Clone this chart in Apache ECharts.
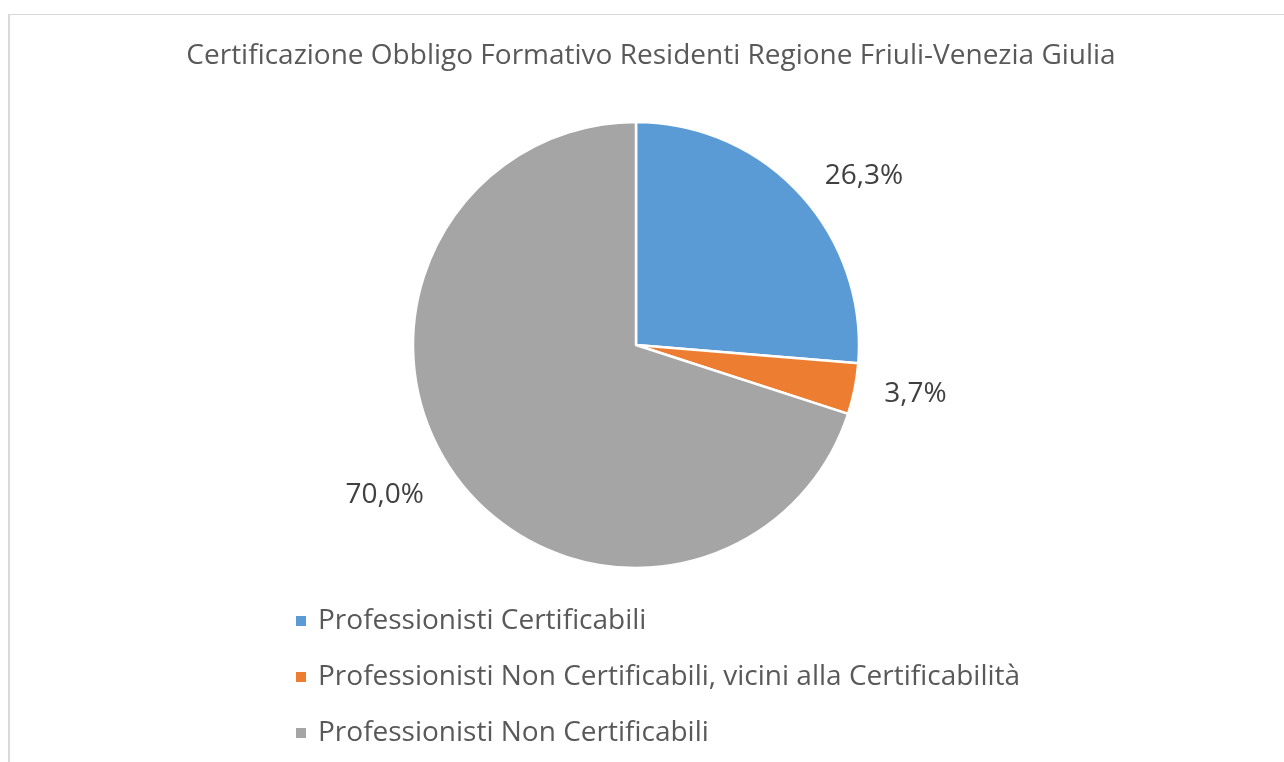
<!DOCTYPE html>
<html>
<head>
<meta charset="utf-8">
<script src="https://cdn.jsdelivr.net/npm/echarts@6/dist/echarts.min.js"></script>
<style>
  html, body { margin: 0; padding: 0; background: #fff; overflow: hidden; }
  #chart { width: 1284px; height: 762px; }
  #frame {
    position: absolute; left: 8px; top: 14px; width: 1400px; height: 900px;
    border-top: 1px solid #d9d9d9; border-left: 2px solid #d9d9d9;
    pointer-events: none;
  }
</style>
</head>
<body>
<div id="chart"></div>
<div id="frame"></div>
<script>
const titleText = 'Certificazione Obbligo Formativo Residenti Regione Friuli-Venezia Giulia';
const categories = [
  'Professionisti Certificabili',
  'Professionisti Non Certificabili, vicini alla Certificabilità',
  'Professionisti Non Certificabili'
];
const values = [26.3, 3.7, 70.0];
const colors = ['#5b9bd5', '#ed7d31', '#a5a5a5'];
// distanza dell'etichetta dal bordo della torta, per fetta
const labelOffsets = [27, 25, 33];

const fontFamily = '"Open Sans", "Noto Sans", sans-serif';

const pieData = categories.map((name, i) => {
  return {
    name: name,
    value: values[i],
    itemStyle: { color: colors[i] },
    labelLine: { show: false, length: labelOffsets[i], length2: 0 }
  }
});

const chart = echarts.init(document.getElementById('chart'), null, { renderer: 'canvas' });

const option = {
  animation: false,
  backgroundColor: '#ffffff',
  title: {
    text: titleText,
    left: 651,
    textAlign: 'center',
    top: 42,
    padding: 0,
    textStyle: {
      fontFamily: fontFamily,
      fontSize: 28,
      fontWeight: 'normal',
      color: '#595959'
    }
  },
  legend: {
    orient: 'vertical',
    left: 294,
    top: 604,
    padding: 0,
    itemGap: 22,
    itemWidth: 12,
    itemHeight: 12,
    icon: 'rect',
    data: categories,
    textStyle: {
      fontFamily: fontFamily,
      fontSize: 28,
      lineHeight: 34,
      color: '#595959',
      padding: [0, 0, 0, 6]
    }
  },
  series: [{
    type: 'pie',
    center: [636, 345],
    radius: 223,
    startAngle: 90,
    clockwise: true,
    avoidLabelOverlap: false,
    itemStyle: {
      borderColor: '#ffffff',
      borderWidth: 2.5
    },
    label: {
      show: true,
      position: 'outside',
      formatter: function (p) {
        return p.value.toFixed(1).replace('.', ',') + '%';
      },
      fontFamily: fontFamily,
      fontSize: 28,
      color: '#404040'
    },
    labelLine: { show: false },
    data: pieData
  }]
};

chart.setOption(option);
</script>
</body>
</html>
